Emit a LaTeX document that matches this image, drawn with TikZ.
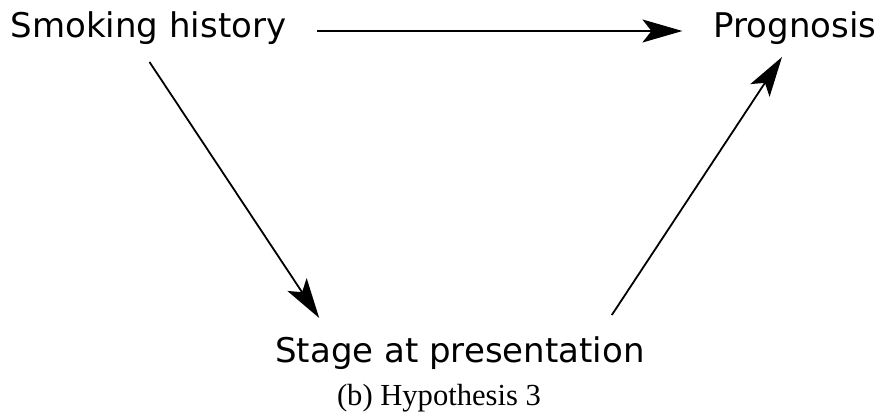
\documentclass[tikz,border=0pt]{standalone}
\usepackage{fontspec}
\setmainfont{DejaVu Sans}
\newfontfamily\capfont{Liberation Serif}
\usetikzlibrary{arrows.meta}
\begin{document}
\begin{tikzpicture}[x=1pt,y=-1pt,
  lbl/.style={inner sep=0pt,anchor=base,font=\fontsize{34}{40}\selectfont},
  captxt/.style={inner sep=0pt,anchor=base,font=\capfont\fontsize{30.6}{36}\selectfont},
  arr/.style={line width=1.8pt,-{Stealth[length=40pt,width=23pt,inset=9pt]}}]
\useasboundingbox (0,0) rectangle (882,419);
\node[lbl] (smoke) at (148.5,38) {Smoking history};
\node[lbl] (prog) at (795,38) {Prognosis};
\node[lbl] (stage) at (460,362) {Stage at presentation};
\node[captxt] (caption) at (439,405) {(b) Hypothesis 3};
\draw[arr] ([shift={(31,-7)}]smoke.base east) -- ([shift={(-31,-7)}]prog.base west);
\draw[arr] ([shift={(1,24)}]smoke.base) -- ([shift={(44,-44)}]stage.base west);
\draw[arr] ([shift={(-33,-47)}]stage.base east) -- ([shift={(-13,19)}]prog.base);
\end{tikzpicture}
\end{document}
